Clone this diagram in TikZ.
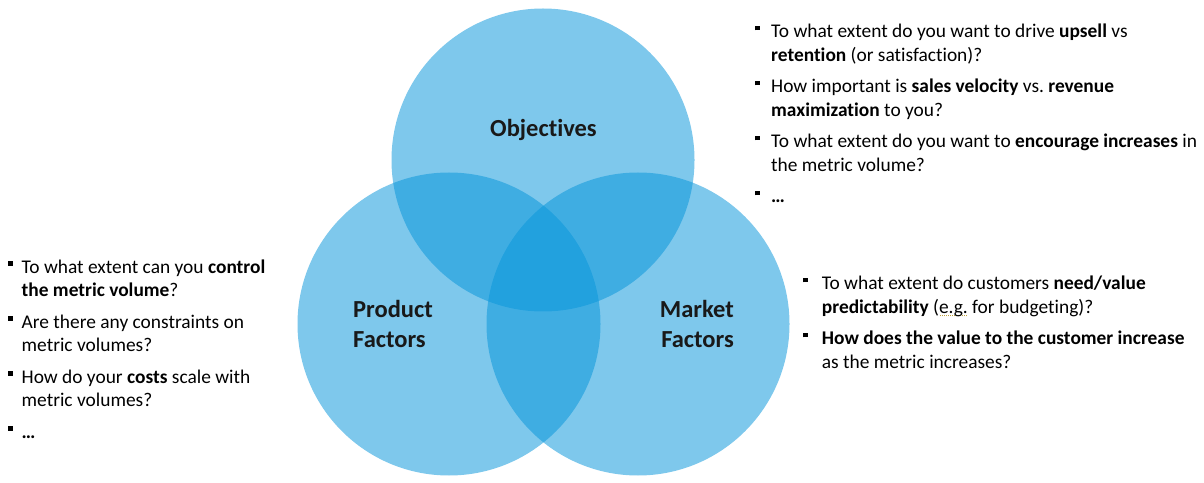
\documentclass[tikz,border=0pt]{standalone}
\usepackage{fontspec}
\setmainfont{Carlito}[Ligatures=NoCommon]
\usepackage{xcolor}
\usepackage{tikz}
\usetikzlibrary{positioning}
\frenchspacing
\definecolor{vennblue}{RGB}{7,149,218}
\definecolor{squiggle}{RGB}{190,160,60}
\newcommand{\sqb}[1]{\makebox[#1][l]{\rule[7.5pt]{4.8pt}{4.8pt}}}
\newcommand{\dotul}[1]{\setbox0\hbox{#1}\rlap{\color{squiggle}\raisebox{-3pt}{\hbox to \wd0{\leaders\hbox to 2pt{\hss\rule{1pt}{1pt}\hss}\hfil}}}\box0\relax}
\tikzset{
  venn/.style={circle,fill=vennblue,fill opacity=0.52,draw=none,minimum size=303pt,inner sep=0pt},
  vlabel/.style={inner sep=0pt,font=\fontsize{24.5}{30}\selectfont\bfseries,text=black!90},
  qlist/.style={inner sep=0pt,align=left,anchor=base west,font=\fontsize{19.4}{23.3}\selectfont}
}
\begin{document}
\begin{tikzpicture}[x=1pt,y=1pt]
\useasboundingbox (0,0) rectangle (1204,482);
% the three sets
\foreach \n/\p in {obj/{543,322},prod/{449,158},mkt/{638,158}}{\node[venn] (\n) at (\p) {};}
\node[vlabel,anchor=base] (objlbl) at (543.5,345) {Objectives};
\node[vlabel,anchor=base west,align=left] (prodlbl) at (353,134) {Product\\Factors};
\node[vlabel,anchor=base east,align=right] (mktlbl) at (734,134) {Market\\Factors};
% questions (anchored at the baseline of their last line)
\node[qlist] (objq) at (755,279) {%
\sqb{16pt}To what extent do you want to drive \textbf{upsell} vs\\
\hspace*{16pt}\textbf{retention} (or satisfaction)?\\[8.4pt]
\sqb{16pt}How important is \textbf{sales velocity} vs. \textbf{revenue}\\
\hspace*{16pt}\textbf{maximization} to you?\\[8.4pt]
\sqb{16pt}To what extent do you want to \textbf{encourage increases} in\\
\hspace*{16pt}the metric volume?\\[8.4pt]
\sqb{16pt}\textbf{…}};
\node[qlist] (prodq) at (8,44) {%
\sqb{13.5pt}To what extent can you \textbf{control}\\
\hspace*{13.5pt}\textbf{the metric volume}?\\[8.4pt]
\sqb{13.5pt}Are there any constraints on\\
\hspace*{13.5pt}metric volumes?\\[8.4pt]
\sqb{13.5pt}How do your \textbf{costs} scale with\\
\hspace*{13.5pt}metric volumes?\\[8.4pt]
\sqb{13.5pt}\textbf{…}};
\node[qlist] (mktq) at (803,113.7) {%
\sqb{18.7pt}To what extent do customers \textbf{need/value}\\
\hspace*{18.7pt}\textbf{predictability} (\dotul{e.g.} for budgeting)?\\[8.4pt]
\sqb{18.7pt}\textbf{How does the value to the customer increase}\\
\hspace*{18.7pt}as the metric increases?};
\end{tikzpicture}
\end{document}
